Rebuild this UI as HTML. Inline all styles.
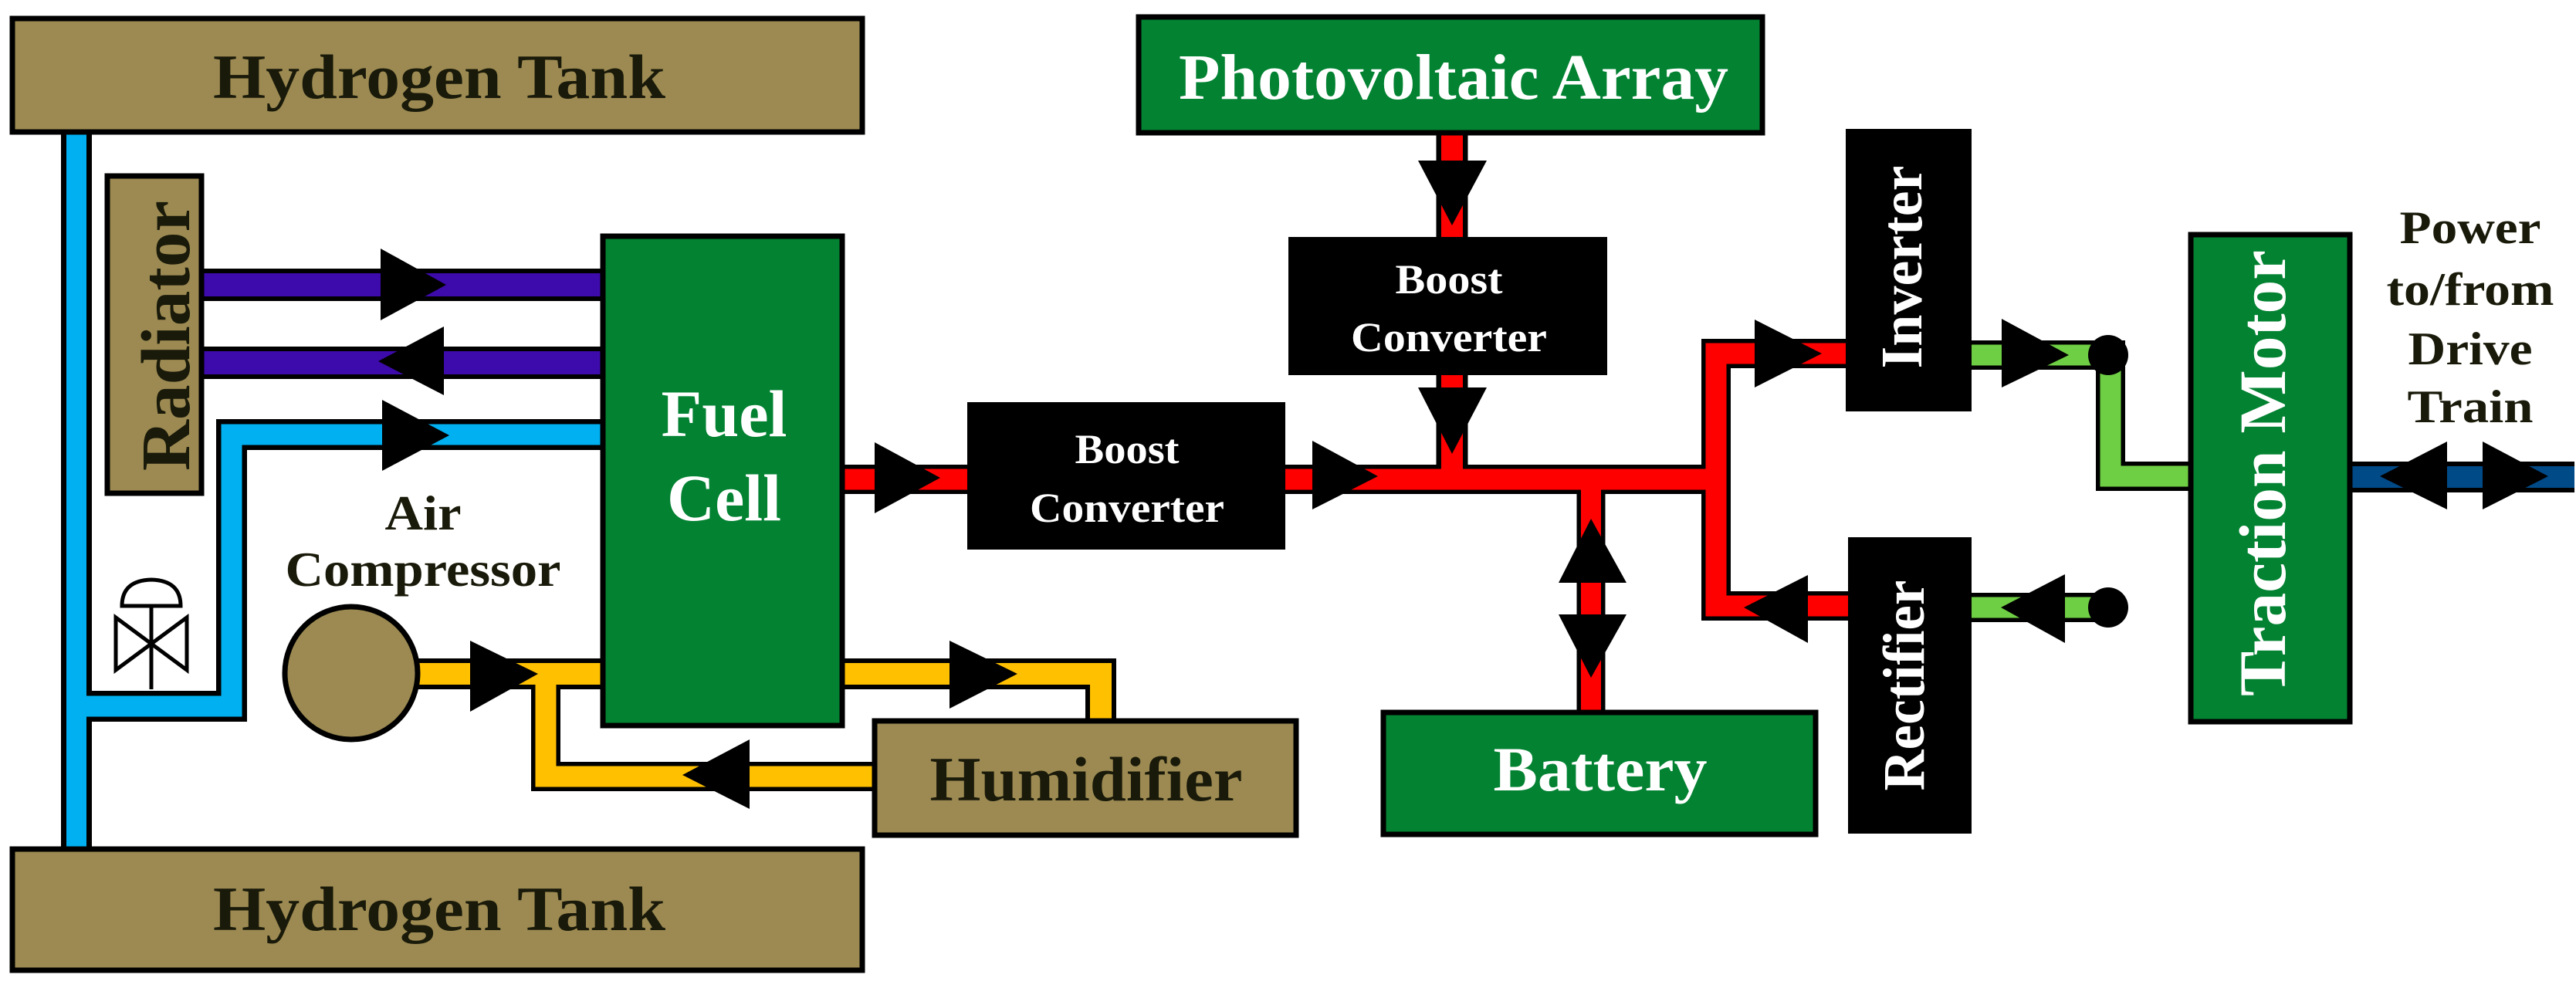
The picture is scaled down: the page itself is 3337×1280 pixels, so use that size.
<!DOCTYPE html>
<html><head><meta charset="utf-8"><style>
html,body{margin:0;padding:0;background:#fff;}
svg{display:block;}
text{font-family:"Liberation Serif",serif;font-weight:bold;}
</style></head><body>
<svg width="3337" height="1280" viewBox="0 0 3337 1280" xmlns="http://www.w3.org/2000/svg">
<rect width="3337" height="1280" fill="#fff"/>
<!-- pipe outlines -->
<g fill="none" stroke="#000" stroke-linejoin="miter" stroke-linecap="butt">
  <path d="M99 170 V1100" stroke-width="40"/>
  <path d="M99 915 H300 V563 H780" stroke-width="40"/>
  <path d="M262 369 H780" stroke-width="42"/>
  <path d="M262 470 H780" stroke-width="42"/>
  <path d="M540 873 H1426 V932" stroke-width="40"/>
  <path d="M1131 1006 H707 V873" stroke-width="38"/>
  <path d="M1090 621 H2223" stroke-width="38"/>
  <path d="M1881 173 V307 M1881 485 V621" stroke-width="41"/>
  <path d="M2392 458 H2223 V785 H2394" stroke-width="38"/>
  <path d="M2061 621 V922" stroke-width="37"/>
  <path d="M2554 460 H2734 V617 H2836" stroke-width="38"/>
  <path d="M2554 787 H2731" stroke-width="38"/>
  <path d="M3045 618 H3335" stroke-width="40"/>
</g>
<!-- pipe colors -->
<g fill="none" stroke-linejoin="miter" stroke-linecap="butt">
  <path d="M99 170 V1100" stroke="#00b0f0" stroke-width="26"/>
  <path d="M99 915 H300 V563 H780" stroke="#00b0f0" stroke-width="27"/>
  <path d="M262 369 H780" stroke="#3d0aab" stroke-width="30"/>
  <path d="M262 470 H780" stroke="#3d0aab" stroke-width="30"/>
  <path d="M540 873 H1426 V932" stroke="#ffc000" stroke-width="28"/>
  <path d="M1131 1006 H707 V873" stroke="#ffc000" stroke-width="27"/>
  <path d="M1090 621 H2223" stroke="#ff0000" stroke-width="27"/>
  <path d="M1881 173 V307 M1881 485 V621" stroke="#ff0000" stroke-width="28"/>
  <path d="M2392 458 H2223 V785 H2394" stroke="#ff0000" stroke-width="27"/>
  <path d="M2061 621 V922" stroke="#ff0000" stroke-width="26"/>
  <path d="M2554 460 H2734 V617 H2836" stroke="#6fcf44" stroke-width="27"/>
  <path d="M2554 787 H2731" stroke="#6fcf44" stroke-width="27"/>
  <path d="M3045 618 H3335" stroke="#004a88" stroke-width="28"/>
</g>
<!-- boxes -->
<g stroke="#000" stroke-width="7">
  <rect x="16" y="24" width="1101" height="147" fill="#9c8a52"/>
  <rect x="16" y="1100" width="1101" height="157" fill="#9c8a52"/>
  <rect x="139" y="228" width="122" height="411" fill="#9c8a52"/>
  <rect x="781" y="306" width="310" height="634" fill="#038232"/>
  <rect x="1133" y="934" width="546" height="148" fill="#9c8a52"/>
  <rect x="1475" y="22" width="808" height="150" fill="#038232"/>
  <rect x="1792" y="923" width="560" height="158" fill="#038232"/>
  <rect x="2838" y="304" width="206" height="631" fill="#038232"/>
  <ellipse cx="455" cy="872" rx="86" ry="86" fill="#9c8a52"/>
</g>
<g fill="#000">
  <rect x="1253" y="521" width="412" height="191"/>
  <rect x="1669" y="307" width="413" height="179"/>
  <rect x="2391" y="167" width="163" height="366"/>
  <rect x="2394" y="696" width="160" height="384"/>
  <circle cx="2731" cy="460" r="26"/>
  <circle cx="2731" cy="787" r="26"/>
  <!-- arrows -->
  <polygon points="493,322 578,369 493,415"/>
  <polygon points="575,423 490,468 575,512"/>
  <polygon points="495,518 582,564 495,610"/>
  <polygon points="1133,573 1218,619 1133,665"/>
  <polygon points="609,830 697,873 609,922"/>
  <polygon points="1230,830 1318,873 1230,918"/>
  <polygon points="971,958 884,1004 971,1048"/>
  <polygon points="1700,571 1785,617 1700,660"/>
  <polygon points="1837,208 1926,208 1881,292"/>
  <polygon points="1837,502 1926,502 1881,588"/>
  <polygon points="2019,755 2107,755 2061,672"/>
  <polygon points="2019,796 2107,796 2061,878"/>
  <polygon points="2273,414 2360,458 2273,502"/>
  <polygon points="2342,745 2259,787 2342,833"/>
  <polygon points="2593,413 2680,460 2593,502"/>
  <polygon points="2675,744 2592,787 2675,833"/>
  <polygon points="3170,572 3083,617 3170,660"/>
  <polygon points="3216,572 3301,617 3216,660"/>
</g>
<!-- valve -->
<g fill="none" stroke="#000" stroke-width="5">
  <path d="M158 785 Q158 752 196 751 Q234 752 234 785 Z" fill="#fff"/>
  <path d="M196 785 V893"/>
  <polygon points="150,800 242,868 242,800 150,868"/>
</g>
<!-- labels -->
<g fill="#1a1a0a" text-anchor="middle">
  <text x="569" y="127" font-size="82" textLength="586" lengthAdjust="spacingAndGlyphs">Hydrogen Tank</text>
  <text x="569" y="1205" font-size="82" textLength="586" lengthAdjust="spacingAndGlyphs">Hydrogen Tank</text>
  <text x="1407" y="1037" font-size="82" textLength="405" lengthAdjust="spacingAndGlyphs">Humidifier</text>
  <text transform="translate(245,435) rotate(-90)" font-size="90" textLength="350" lengthAdjust="spacingAndGlyphs">Radiator</text>
  <text x="548" y="686" font-size="64" textLength="99" lengthAdjust="spacingAndGlyphs">Air</text>
  <text x="548" y="759" font-size="64" textLength="357" lengthAdjust="spacingAndGlyphs">Compressor</text>
  <text x="3200" y="315" font-size="60" textLength="183" lengthAdjust="spacingAndGlyphs">Power</text>
  <text x="3200" y="395" font-size="60" textLength="217" lengthAdjust="spacingAndGlyphs">to/from</text>
  <text x="3200" y="472" font-size="60" textLength="161" lengthAdjust="spacingAndGlyphs">Drive</text>
  <text x="3200" y="547" font-size="60" textLength="163" lengthAdjust="spacingAndGlyphs">Train</text>
</g>
<g fill="#fff" text-anchor="middle">
  <text x="938" y="565" font-size="86" textLength="163" lengthAdjust="spacingAndGlyphs">Fuel</text>
  <text x="938" y="674" font-size="86" textLength="148" lengthAdjust="spacingAndGlyphs">Cell</text>
  <text x="1460" y="600" font-size="54" textLength="135" lengthAdjust="spacingAndGlyphs">Boost</text>
  <text x="1460" y="676" font-size="54" textLength="252" lengthAdjust="spacingAndGlyphs">Converter</text>
  <text x="1877" y="380" font-size="54" textLength="139" lengthAdjust="spacingAndGlyphs">Boost</text>
  <text x="1877" y="455" font-size="54" textLength="254" lengthAdjust="spacingAndGlyphs">Converter</text>
  <text x="1883" y="128" font-size="84" textLength="712" lengthAdjust="spacingAndGlyphs">Photovoltaic Array</text>
  <text x="2073" y="1024" font-size="82" textLength="277" lengthAdjust="spacingAndGlyphs">Battery</text>
  <text transform="translate(2489,346) rotate(-90)" font-size="76" textLength="263" lengthAdjust="spacingAndGlyphs">Inverter</text>
  <text transform="translate(2492,888) rotate(-90)" font-size="76" textLength="273" lengthAdjust="spacingAndGlyphs">Rectifier</text>
  <text transform="translate(2960,613) rotate(-90)" font-size="86" textLength="578" lengthAdjust="spacingAndGlyphs">Traction Motor</text>
</g>
</svg>
</body></html>
